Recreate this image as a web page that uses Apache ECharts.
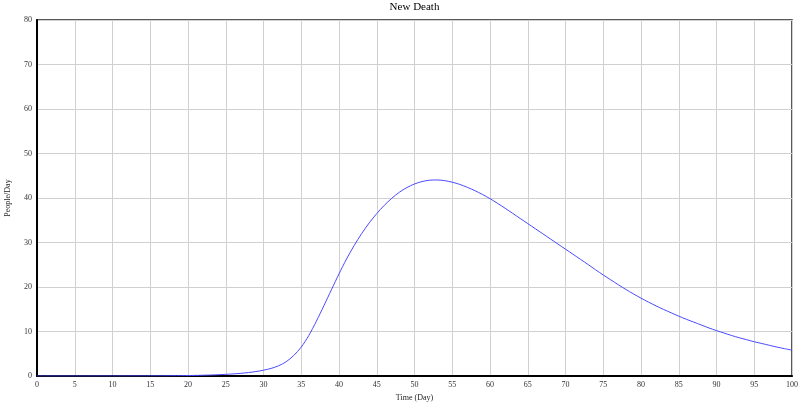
<!DOCTYPE html>
<html>
<head>
<meta charset="utf-8">
<script src="https://cdn.jsdelivr.net/npm/echarts@6/dist/echarts.min.js"></script>
<style>html,body{margin:0;padding:0;background:#fff}#c{width:800px;height:410px}</style>
</head>
<body>
<div id="c"></div>
<script>
const chartTitle = "New Death";
const xName = "Time (Day)";
const yName = "People/Day";
const days = [];
for (let d = 0; d <= 100; d++) days.push(d);
const newDeath = [
  0, 0, 0, 0, 0, 0, 0, 0, 0.01, 0.01, 0.01,
  0.01, 0.02, 0.02, 0.02, 0.03, 0.04, 0.05, 0.06, 0.08, 0.1,
  0.13, 0.17, 0.22, 0.29, 0.37, 0.47, 0.6, 0.77, 1.0, 1.3,
  1.7, 2.3, 3.2, 4.6, 6.5, 9.1, 12.3, 15.8, 19.4, 22.95,
  26.3, 29.3, 32.0, 34.4, 36.5, 38.35, 39.95, 41.3, 42.35, 43.15,
  43.7, 44.0, 44.05, 43.9, 43.55, 43.05, 42.4, 41.65, 40.8, 39.85,
  38.8, 37.7, 36.55, 35.4, 34.25, 33.1, 31.95, 30.8, 29.65, 28.5,
  27.35, 26.2, 25.05, 23.85, 22.7, 21.6, 20.5, 19.45, 18.45, 17.5,
  16.6, 15.75, 14.95, 14.2, 13.45, 12.75, 12.1, 11.45, 10.8, 10.2,
  9.65, 9.1, 8.6, 8.15, 7.7, 7.3, 6.9, 6.5, 6.15, 5.8
];
const seriesData = days.map((d, i) => [d, newDeath[i]]);
const font = "'Liberation Serif', 'DejaVu Serif', serif";
const chart = echarts.init(document.getElementById('c'), null, {renderer: 'canvas'});
chart.setOption({
  animation: false,
  backgroundColor: '#fff',
  title: {
    text: chartTitle, left: 414.5, top: 2, padding: 0, textAlign: 'center',
    textStyle: {fontFamily: font, fontSize: 11, fontWeight: 'normal', color: '#000'}
  },
  grid: {left: 37, right: 8, top: 20, bottom: 34, outerBoundsMode: 'none', containLabel: false,
         show: true, borderColor: '#222', borderWidth: 1.5},
  xAxis: {
    type: 'value', min: 0, max: 100, interval: 5,
    name: xName, nameLocation: 'middle', nameGap: 16,
    nameTextStyle: {fontFamily: font, fontSize: 8, color: '#222'},
    axisLine: {show: true, onZero: false, lineStyle: {color: '#000', width: 2}},
    axisTick: {show: false},
    axisLabel: {fontFamily: font, fontSize: 8, color: '#333', margin: 5},
    splitLine: {show: true, lineStyle: {color: '#d0d0d0', width: 1}}
  },
  yAxis: {
    type: 'value', min: 0, max: 80, interval: 10,
    name: yName, nameLocation: 'middle', nameGap: 25, nameRotate: 90,
    nameTextStyle: {fontFamily: font, fontSize: 8, color: '#222'},
    axisLine: {show: true, lineStyle: {color: '#000', width: 2}},
    axisTick: {show: false},
    axisLabel: {fontFamily: font, fontSize: 8, color: '#333', margin: 5},
    splitLine: {show: true, lineStyle: {color: '#d0d0d0', width: 1}}
  },
  series: [{
    type: 'line', data: seriesData, showSymbol: false, smooth: 0.3,
    lineStyle: {color: '#4a4aff', width: 1}
  }]
});
</script>
</body>
</html>
